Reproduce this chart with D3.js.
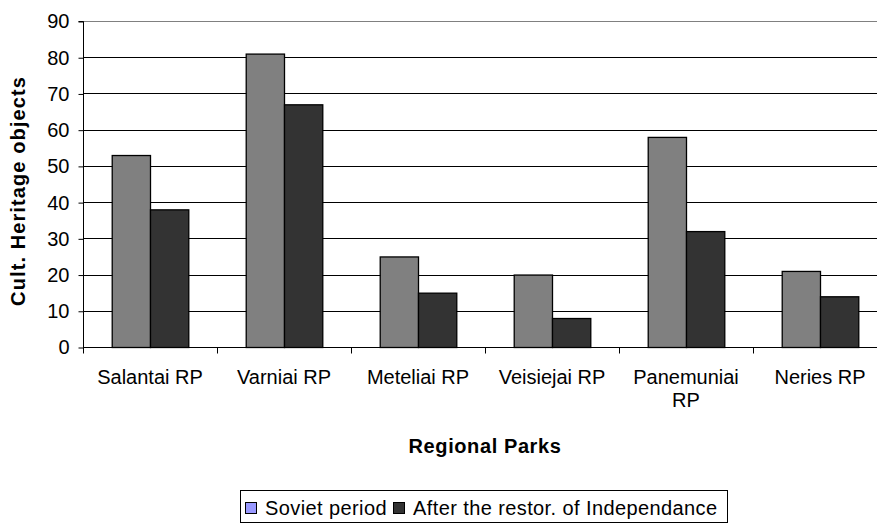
<!DOCTYPE html>
<html>
<head>
<meta charset="utf-8">
<script src="https://cdn.jsdelivr.net/npm/d3@7/dist/d3.min.js"></script>
<style>
  html, body { margin: 0; padding: 0; background: #fff; overflow: hidden; }
  svg { display: block; font-family: "Liberation Sans", Arial, sans-serif; }
</style>
</head>
<body>
<svg id="chart" width="877" height="523"></svg>
<script>
const categories = ["Salantai RP", "Varniai RP", "Meteliai RP", "Veisiejai RP", "Panemuniai RP", "Neries RP"];
const seriesNames = ["Soviet period", "After the restor. of Independance"];
const sovietValues = [53, 81, 25, 20, 58, 21];
const afterValues = [38, 67, 15, 8, 32, 14];
const yTicks = [0, 10, 20, 30, 40, 50, 60, 70, 80, 90];
const barColors = ["#808080", "#333333"];
const legendColors = ["#9999ff", "#333333"];

const svg = d3.select("#chart");
const plot = { left: 83, right: 887, top: 21, bottom: 347 };

const x = d3.scaleBand().domain(categories).range([plot.left, plot.right]).paddingInner(0).paddingOuter(0);
const bw = x.bandwidth();
const gap = bw * 0.75 / 3.5;
const xs = d3.scaleBand().domain([0, 1]).range([gap, bw - gap]).padding(0);
const y = d3.scaleLinear().domain([0, 90]).range([plot.bottom, plot.top]);

// gridlines
svg.append("g").selectAll("line").data(yTicks.filter(d => d > 0)).join("line")
  .attr("x1", plot.left).attr("x2", plot.right)
  .attr("y1", d => Math.round(y(d)) + 0.5).attr("y2", d => Math.round(y(d)) + 0.5)
  .attr("stroke", d => d === 90 ? "#808080" : "#000").attr("stroke-width", 1);

// bars
const data = categories.map((c, i) => ({ c, vals: [sovietValues[i], afterValues[i]] }));
const groups = svg.append("g").selectAll("g").data(data).join("g")
  .attr("transform", d => `translate(${x(d.c)},0)`);
groups.selectAll("rect").data(d => d.vals.map((v, k) => ({ v, k }))).join("rect")
  .attr("x", d => xs(d.k) + 0.5)
  .attr("width", xs.bandwidth())
  .attr("y", d => y(d.v) + 0.5)
  .attr("height", d => y(0) - y(d.v))
  .attr("fill", d => barColors[d.k])
  .attr("stroke", "#000").attr("stroke-width", 1.3);

// y axis
const yAxis = d3.axisLeft(y).tickValues(yTicks).tickSize(5).tickPadding(9);
const gy = svg.append("g").attr("transform", `translate(${plot.left + 0.5},0.5)`).call(yAxis);
gy.select(".domain").attr("stroke", "#000").attr("d", `M-5,${plot.top}H0V${plot.bottom}`);
gy.selectAll(".tick line").attr("stroke", "#000");
gy.selectAll(".tick text").attr("font-size", 20).attr("fill", "#000")
  .attr("font-family", "Liberation Sans, Arial, sans-serif");

// x axis
const gx = svg.append("g").attr("transform", `translate(0,${plot.bottom + 0.5})`);
gx.append("line").attr("x1", plot.left).attr("x2", plot.right).attr("stroke", "#000");
gx.selectAll(".tk").data(categories.concat(["_end"])).join("line").attr("class", "tk")
  .attr("x1", (d, i) => Math.round(plot.left + i * bw) + 0.5)
  .attr("x2", (d, i) => Math.round(plot.left + i * bw) + 0.5)
  .attr("y1", 0).attr("y2", 6).attr("stroke", "#000");

const lab = svg.append("g").selectAll("text").data(categories).join("text")
  .attr("text-anchor", "middle").attr("font-size", 20).attr("fill", "#000")
  .attr("transform", d => `translate(${x(d) + bw / 2},384)`);
lab.each(function(d) {
  const t = d3.select(this);
  const lines = d === "Panemuniai RP" ? ["Panemuniai", "RP"] : [d];
  lines.forEach((l, i) => t.append("tspan").attr("x", 0).attr("y", i * 23).text(l));
});

// axis titles
svg.append("text").attr("x", (plot.left + plot.right) / 2).attr("y", 453)
  .attr("text-anchor", "middle").attr("font-size", 20).attr("font-weight", "bold")
  .attr("letter-spacing", 0.6).text("Regional Parks");
svg.append("text").attr("transform", `translate(25,${(80 + 302) / 2}) rotate(-90)`)
  .attr("text-anchor", "middle").attr("font-size", 20).attr("font-weight", "bold")
  .attr("letter-spacing", 1.1).text("Cult. Heritage objects");

// legend
const leg = svg.append("g");
const box = leg.append("rect").attr("y", 490.5).attr("height", 32)
  .attr("fill", "#fff").attr("stroke", "#000");
const afterSwatchX = 393;
const t2 = leg.append("text").attr("x", afterSwatchX + 20).attr("y", 515)
  .attr("font-size", 20).attr("letter-spacing", 0.4).attr("fill", "#000").text(seriesNames[1]);
const t1 = leg.append("text").attr("x", afterSwatchX - 6).attr("y", 515).attr("text-anchor", "end")
  .attr("font-size", 20).attr("letter-spacing", 0.4).attr("fill", "#000").text(seriesNames[0]);
const w1 = t1.node().getComputedTextLength();
const w2 = t2.node().getComputedTextLength();
const sovietSwatchX = afterSwatchX - 6 - w1 - 20;
leg.append("rect").attr("x", Math.round(sovietSwatchX) + 0.5).attr("y", 502.5).attr("width", 11).attr("height", 11)
  .attr("fill", legendColors[0]).attr("stroke", "#000");
leg.append("rect").attr("x", afterSwatchX + 0.5).attr("y", 502.5).attr("width", 11).attr("height", 11)
  .attr("fill", legendColors[1]).attr("stroke", "#000");
const boxL = Math.round(sovietSwatchX - 5) + 0.5;
const boxR = Math.round(afterSwatchX + 20 + w2 + 9) + 0.5;
box.attr("x", boxL).attr("width", boxR - boxL);
</script>
</body>
</html>
